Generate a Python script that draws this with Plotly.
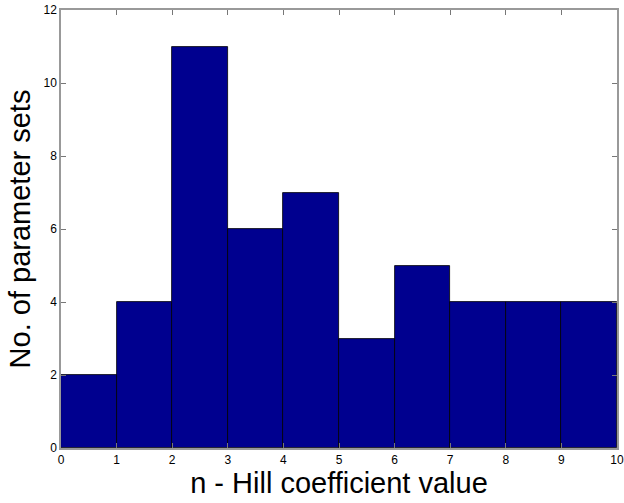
import plotly.graph_objects as go

bin_centers = [0.5, 1.5, 2.5, 3.5, 4.5, 5.5, 6.5, 7.5, 8.5, 9.5]
counts = [2, 4, 11, 6, 7, 3, 5, 4, 4, 4]
x_ticks = list(range(0, 11))
y_ticks = list(range(0, 13, 2))

fig = go.Figure()
fig.add_trace(go.Bar(
    x=bin_centers, y=counts, width=1,
    marker=dict(color="#00008F", line=dict(color="black", width=0.8)),
))

axis_common = dict(
    showgrid=False, zeroline=False, showline=True, linecolor="#999999", linewidth=1.5,
    mirror="ticks", ticks="inside", ticklen=5, tickcolor="#777777", automargin=False,
    tickfont=dict(family="Arial, Liberation Sans", size=12, color="black"),
)

fig.update_layout(
    width=624, height=503,
    margin=dict(l=61, r=7, t=10, b=55),
    plot_bgcolor="white", paper_bgcolor="white",
    showlegend=False, bargap=0,
    xaxis=dict(range=[0, 10], tickvals=x_ticks, title=dict(text="n - Hill coefficient value",
               font=dict(family="Arial, Liberation Sans", size=29, color="black"), standoff=0), **axis_common),
    yaxis=dict(range=[0, 12], tickvals=y_ticks, title=dict(text="No. of parameter sets",
               font=dict(family="Arial, Liberation Sans", size=29, color="black"), standoff=4), **axis_common),
)

fig.write_html("out.html", config={"displayModeBar": False},
               post_script="document.body.style.margin='0px';document.body.style.overflow='hidden';")
